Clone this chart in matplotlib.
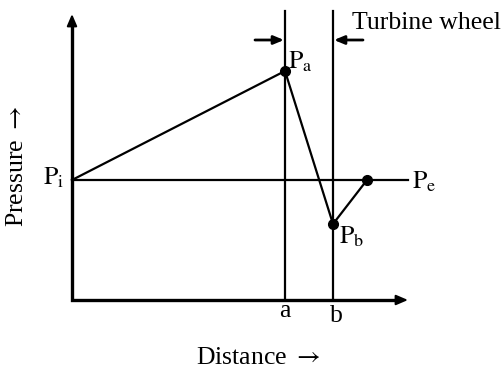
import matplotlib
matplotlib.use("Agg")
import matplotlib.pyplot as plt

plt.rcParams['font.family'] = ['Liberation Serif', 'DejaVu Serif']
plt.rcParams['mathtext.fontset'] = 'stix'

# Pressure path through the stage: inlet -> a -> b -> exit
path_x = [0, 213, 261, 295]
path_y = [120, 229, 76, 120]
x_a, x_b = 213, 261
p_inlet = 120
x_max, y_max = 336, 286
line_top = 289

fig = plt.figure(figsize=(5.04, 3.74), dpi=100)
ax = fig.add_axes([0, 0, 1, 1])
ax.set_xlim(-72, 432)
ax.set_ylim(-74, 300)
ax.axis('off')

k = 'black'
fs = 18.5

# axes with arrows (single polyline for a clean corner)
ax.plot([0, 0, x_max - 8], [y_max - 8, 0, 0], color=k, lw=2.4,
        solid_joinstyle='miter', solid_capstyle='butt')
ax.annotate('', xy=(x_max, 0), xytext=(x_max - 12, 0),
            arrowprops=dict(arrowstyle='-|>,head_length=0.7,head_width=0.3', lw=1.5, color=k,
                            shrinkA=0, shrinkB=0))
ax.annotate('', xy=(0, y_max), xytext=(0, y_max - 12),
            arrowprops=dict(arrowstyle='-|>,head_length=0.7,head_width=0.3', lw=1.5, color=k,
                            shrinkA=0, shrinkB=0))

# vertical lines at a and b
ax.plot([x_a, x_a], [0, line_top], color=k, lw=1.6)
ax.plot([x_b, x_b], [0, line_top], color=k, lw=1.6)

# horizontal inlet/exit pressure line
ax.plot([0, x_max], [p_inlet, p_inlet], color=k, lw=1.6)

# pressure path
ax.plot(path_x, path_y, color=k, lw=1.6)
ax.plot(path_x[1:], path_y[1:], 'o', color=k, ms=7)

# turbine wheel arrows
ax.annotate('', xy=(x_a - 1, 260), xytext=(x_a - 30, 260),
            arrowprops=dict(arrowstyle='-|>,head_length=0.6,head_width=0.25', lw=2, color=k,
                            shrinkA=0, shrinkB=0))
ax.annotate('', xy=(x_b + 1, 260), xytext=(x_b + 30, 260),
            arrowprops=dict(arrowstyle='-|>,head_length=0.6,head_width=0.25', lw=2, color=k,
                            shrinkA=0, shrinkB=0))

ax.text(280, 277, 'Turbine wheel', fontsize=fs, ha='left', va='center')

# point labels
ax.text(-8, p_inlet + 2, r'$\mathrm{P_i}$', fontsize=fs, ha='right', va='center')
ax.text(x_a + 3, 238, r'$\mathrm{P_a}$', fontsize=fs, ha='left', va='center')
ax.text(x_b + 6, 63, r'$\mathrm{P_b}$', fontsize=fs, ha='left', va='center')
ax.text(x_max + 4, p_inlet - 2, r'$\mathrm{P_e}$', fontsize=fs, ha='left', va='center')

# tick labels
ax.text(x_a, -11, 'a', fontsize=fs, ha='center', va='center')
ax.text(x_b + 3, -16, 'b', fontsize=fs, ha='center', va='center')

# axis titles
ax.text(186, -58, r'Distance $\rightarrow$', fontsize=fs, ha='center', va='center')
ax.text(-55, 134, r'Pressure $\rightarrow$', fontsize=fs, ha='center', va='center', rotation=90)

fig.savefig('out.png', dpi=100)
